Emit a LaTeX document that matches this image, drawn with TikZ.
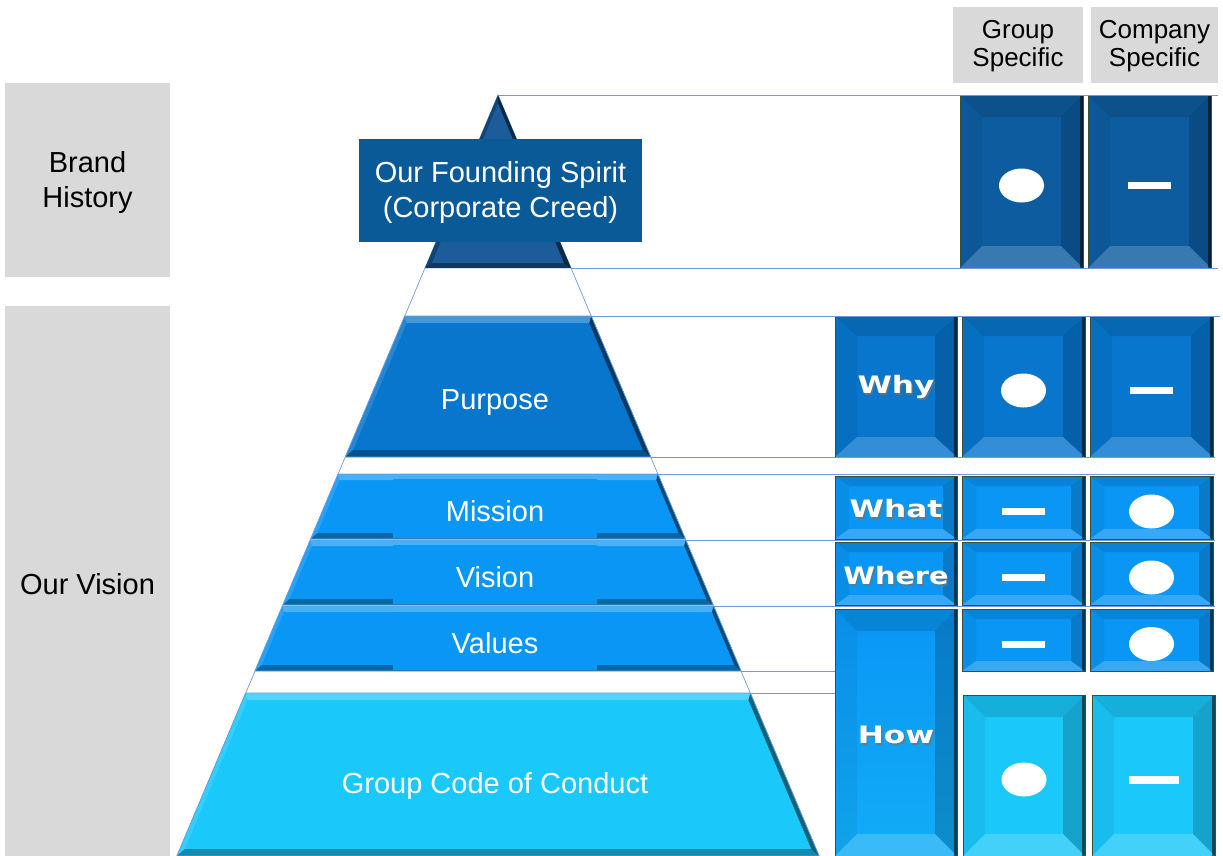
\documentclass[tikz,border=0pt]{standalone}
\usepackage{fontspec}
\setmainfont{Liberation Sans}
\newfontfamily\labfont{DejaVu Sans}
\usetikzlibrary{shapes.geometric}
\definecolor{grayb}{RGB}{217,217,217}
\definecolor{cTop}{RGB}{14,92,160}
\definecolor{cPur}{RGB}{8,118,204}
\definecolor{cMid}{RGB}{10,150,245}
\definecolor{cCyan}{RGB}{26,200,250}
\definecolor{cLine}{RGB}{110,155,215}
\definecolor{cFound}{RGB}{11,90,152}
\definecolor{cTri}{RGB}{28,92,155}
\definecolor{cEdge}{RGB}{60,80,45}
\newcommand\lab[1]{\scalebox{1.3}[1]{\labfont\bfseries #1}}
\newcommand\pyband[5]{%
  \pgfmathsetmacro\pbA{0.422*(#2-95)}%
  \pgfmathsetmacro\pbB{0.422*(#3-95)}%
  \pgfmathsetmacro\pbIA{0.422*(#2+#5-95)-0.7*#5}%
  \pgfmathsetmacro\pbIB{0.422*(#3-#5-95)-0.7*#5}%
  \coordinate (#1-tl) at ({498-\pbA},#2);
  \coordinate (#1-tr) at ({498+\pbA},#2);
  \coordinate (#1-br) at ({498+\pbB},#3);
  \coordinate (#1-bl) at ({498-\pbB},#3);
  \coordinate (#1-itl) at ({498-\pbIA},{#2+#5});
  \coordinate (#1-itr) at ({498+\pbIA},{#2+#5});
  \coordinate (#1-ibr) at ({498+\pbIB},{#3-#5});
  \coordinate (#1-ibl) at ({498-\pbIB},{#3-#5});
  \fill[#4] (#1-tl) -- (#1-tr) -- (#1-br) -- (#1-bl) -- cycle;
  \fill[white,opacity=.25] (#1-tl) -- (#1-tr) -- (#1-itr) -- (#1-itl) -- cycle;
  \fill[white,opacity=.12] (#1-tl) -- (#1-itl) -- (#1-ibl) -- (#1-bl) -- cycle;
  \fill[black,opacity=.5] (#1-tr) -- (#1-br) -- (#1-ibr) -- (#1-itr) -- cycle;
  \fill[black,opacity=.3] (#1-bl) -- (#1-br) -- (#1-ibr) -- (#1-ibl) -- cycle;
  \draw[bandline] (#1-tl) -- (#1-tr) -- (#1-br) -- (#1-bl) -- cycle;
}
\tikzset{
  bvx/.store in=\bvx, bvx=22pt,
  bvy/.store in=\bvy, bvy=22pt,
  bevel/.style={fill=#1, draw=cEdge, line width=0.7pt, inner sep=0pt, outer sep=0pt,
    path picture={
      \coordinate (pA) at (path picture bounding box.north west);
      \coordinate (pB) at (path picture bounding box.north east);
      \coordinate (pC) at (path picture bounding box.south east);
      \coordinate (pD) at (path picture bounding box.south west);
      \coordinate (qA) at ([shift={(\bvx,-\bvy)}]pA);
      \coordinate (qB) at ([shift={(-\bvx,-\bvy)}]pB);
      \coordinate (qC) at ([shift={(-\bvx,\bvy)}]pC);
      \coordinate (qD) at ([shift={(\bvx,\bvy)}]pD);
      \fill[black,opacity=.12] (pA) -- (pB) -- (qB) -- (qA) -- cycle;
      \fill[white,opacity=.18] (pD) -- (pC) -- (qC) -- (qD) -- cycle;
      \fill[black,opacity=.18] (pB) -- (pC) -- (qC) -- (qB) -- cycle;
      \fill[black,opacity=.05] (pA) -- (pD) -- (qD) -- (qA) -- cycle;
      \fill[black,opacity=.55] ([xshift=-3pt]pB) rectangle (pC);
    }},
  gbox/.style={fill=grayb, inner sep=0pt, align=center, font=\fontsize{29}{35}\selectfont},
  hbox/.style={fill=grayb, inner sep=0pt, align=center, font=\fontsize{26}{28}\selectfont},
  plab/.style={text=white, inner sep=0pt, align=center, font=\fontsize{29}{35}\selectfont, minimum width=204pt},
  qlab/.style={text=white, inner sep=0pt, font=\fontsize{24}{28}\selectfont},
  qsh/.style={text=black!55, opacity=.7, inner sep=0pt, font=\fontsize{24}{28}\selectfont},
  dot/.style={ellipse, fill=white, minimum width=45pt, minimum height=34pt, inner sep=0pt},
  bar/.style={rectangle, fill=white, minimum width=43pt, minimum height=7pt, inner sep=0pt},
  bandline/.style={draw=cLine, line width=0.7pt},
  conn/.style={draw=cLine, line width=0.9pt},
}
\begin{document}
\begin{tikzpicture}[x=1pt,y=-1pt]
\useasboundingbox (0,0) rectangle (1223,856);
% gray side and header boxes
\node[gbox, minimum width=165pt, minimum height=194pt] (brand) at (87.5,180) {};
\node[font=\fontsize{29}{35}\selectfont, align=center, inner sep=0pt] (brandt) at (87.5,183) {Brand\\History};
\node[gbox, minimum width=165pt, minimum height=550pt] (vision) at (87.5,581) {};
\node[font=\fontsize{29}{35}\selectfont, inner sep=0pt] (visiont) at (87.5,584) {Our Vision};
\node[hbox, minimum width=130pt, minimum height=76pt] (hgroup) at (1018,45) {};
\node[font=\fontsize{26}{28}\selectfont, align=center, inner sep=0pt] (hgroupt) at (1018,46) {Group\\Specific};
\node[hbox, minimum width=127pt, minimum height=76pt] (hcomp) at (1154.5,45) {};
\node[font=\fontsize{26}{28}\selectfont, align=center, inner sep=0pt] (hcompt) at (1154.5,46) {Company\\Specific};

% pyramid outline
\coordinate (apex) at (498,95);
\coordinate (pyl) at (177,856);
\coordinate (pyr) at (819,856);
\draw[bandline] (pyl) -- (apex) -- (pyr);

% top triangle
\coordinate (tri-l) at (425,268);
\coordinate (tri-r) at (571,268);
\coordinate (tri-il) at (432,263);
\coordinate (tri-ir) at (564,263);
\coordinate (tri-ia) at (498,103);
\fill[cTri] (apex) -- (tri-r) -- (tri-l) -- cycle;
\fill[black,opacity=.25] (apex) -- (tri-l) -- (tri-il) -- (tri-ia) -- cycle;
\fill[black,opacity=.55] (apex) -- (tri-r) -- (tri-ir) -- (tri-ia) -- cycle;
\fill[black,opacity=.4] (tri-l) -- (tri-r) -- (tri-ir) -- (tri-il) -- cycle;

% bands
\pyband{pur}{316}{457}{cPur}{7}
\pyband{mis}{474}{539}{cMid}{6}
\pyband{vis}{540}{605}{cMid}{6}
\pyband{val}{606}{671}{cMid}{6}
\pyband{gcc}{693}{856}{cCyan}{7}

% pyramid labels
\node[fill=cFound, inner sep=0pt, minimum width=283pt, minimum height=103pt] (found) at (500.5,190.5) {};
\node[text=white, inner sep=0pt, align=center, font=\fontsize{29}{35}\selectfont] (foundt) at (500.5,193) {Our Founding Spirit\\(Corporate Creed)};
\node[plab, fill=cPur, minimum height=62pt] (purpose) at (495,401) {};
\node[plab] (purposet) at (495,403) {Purpose};
\node[plab, fill=cMid, minimum height=59pt] (mission) at (495,508.5) {};
\node[plab] (missiont) at (495,511) {Mission};
\node[plab, fill=cMid, minimum height=59pt] (visionl) at (495,574.5) {};
\node[plab] (visionlt) at (495,577) {Vision};
\node[plab, fill=cMid, minimum height=58pt] (values) at (495,641) {};
\node[plab] (valuest) at (495,643.5) {Values};
\node[plab] (gccl) at (495,786) {Group Code of Conduct};

% right-hand boxes
\node[bevel=cTop, minimum width=123pt, minimum height=173pt] (b0) at (1021.5,181.5) {};
\node[bevel=cTop, minimum width=123pt, minimum height=173pt] (c0) at (1149.5,181.5) {};
\node[bevel=cPur, bvy=20pt, minimum width=122pt, minimum height=141pt] (a1) at (896,386.5) {};
\node[bevel=cPur, bvy=20pt, minimum width=123pt, minimum height=141pt] (b1) at (1023.5,386.5) {};
\node[bevel=cPur, bvy=20pt, minimum width=123pt, minimum height=141pt] (c1) at (1151.5,386.5) {};
\node[bevel=cMid, bvx=14pt, bvy=10pt, minimum width=122pt, minimum height=63pt] (a2) at (896,507.5) {};
\node[bevel=cMid, bvx=14pt, bvy=10pt, minimum width=123pt, minimum height=63pt] (b2) at (1023.5,507.5) {};
\node[bevel=cMid, bvx=14pt, bvy=10pt, minimum width=123pt, minimum height=63pt] (c2) at (1151.5,507.5) {};
\node[bevel=cMid, bvx=14pt, bvy=10pt, minimum width=122pt, minimum height=63pt] (a3) at (896,573.5) {};
\node[bevel=cMid, bvx=14pt, bvy=10pt, minimum width=123pt, minimum height=63pt] (b3) at (1023.5,573.5) {};
\node[bevel=cMid, bvx=14pt, bvy=10pt, minimum width=123pt, minimum height=63pt] (c3) at (1151.5,573.5) {};
\node[bevel=cMid, bvx=14pt, bvy=10pt, minimum width=123pt, minimum height=62pt] (b4) at (1023.5,640) {};
\node[bevel=cMid, bvx=14pt, bvy=10pt, minimum width=123pt, minimum height=62pt] (c4) at (1151.5,640) {};
\node[bevel=cMid, top color=cMid, bottom color=cMid!55!cCyan, minimum width=122pt, minimum height=247pt] (a4) at (896,732.5) {};
\node[bevel=cCyan, minimum width=122pt, minimum height=161pt] (b5) at (1024,775.5) {};
\node[bevel=cCyan, minimum width=123pt, minimum height=161pt] (c5) at (1153.5,775.5) {};

% question labels
\node[qsh] (why-s) at (897.5,388.5) {\lab{Why}};
\node[qlab] (why) at (896,387) {\lab{Why}};
\node[qsh] (what-s) at (897.5,510.5) {\lab{What}};
\node[qlab] (what) at (896,509) {\lab{What}};
\node[qsh] (where-s) at (897.5,577.5) {\scalebox{0.92}[1]{\lab{Where}}};
\node[qlab] (where) at (896,576) {\scalebox{0.92}[1]{\lab{Where}}};
\node[qsh] (how-s) at (897.5,736.5) {\lab{How}};
\node[qlab] (how) at (896,735) {\lab{How}};

% symbols
\node[dot] (s-b0) at ([yshift=-4pt]b0.center) {};
\node[bar] (s-c0) at ([yshift=-4pt]c0.center) {};
\node[dot] (s-b1) at ([yshift=-4pt]b1.center) {};
\node[bar] (s-c1) at ([yshift=-4pt]c1.center) {};
\node[bar] (s-b2) at ([yshift=-4pt]b2.center) {};
\node[dot] (s-c2) at ([yshift=-4pt]c2.center) {};
\node[bar] (s-b3) at ([yshift=-4pt]b3.center) {};
\node[dot] (s-c3) at ([yshift=-4pt]c3.center) {};
\node[bar] (s-b4) at ([yshift=-4pt]b4.center) {};
\node[dot] (s-c4) at ([yshift=-4pt]c4.center) {};
\node[dot] (s-b5) at ([yshift=-4pt]b5.center) {};
\node[bar, minimum width=50pt, minimum height=8pt] (s-c5) at ([yshift=-4pt]c5.center) {};

% connector lines
\coordinate (e95) at (1218,95);
\coordinate (e268) at (1218,268);
\coordinate (e316) at (1220,316);
\coordinate (e457) at (1215,457);
\coordinate (e474) at (1215,474);
\coordinate (e540) at (1215,540);
\coordinate (e606) at (1215,606);
\draw[conn] (apex) -- (e95);
\draw[conn] (tri-r) -- (e268);
\draw[conn] (pur-tr) -- (e316);
\draw[conn] (pur-br) -- (e457);
\draw[conn] (mis-tr) -- (e474);
\draw[conn] (vis-tr) -- (e540);
\draw[conn] (val-tr) -- (e606);
\draw[conn] (val-br) -- (val-br -| a4.west);
\draw[conn] (gcc-tr) -- (gcc-tr -| a4.west);
\end{tikzpicture}
\end{document}
